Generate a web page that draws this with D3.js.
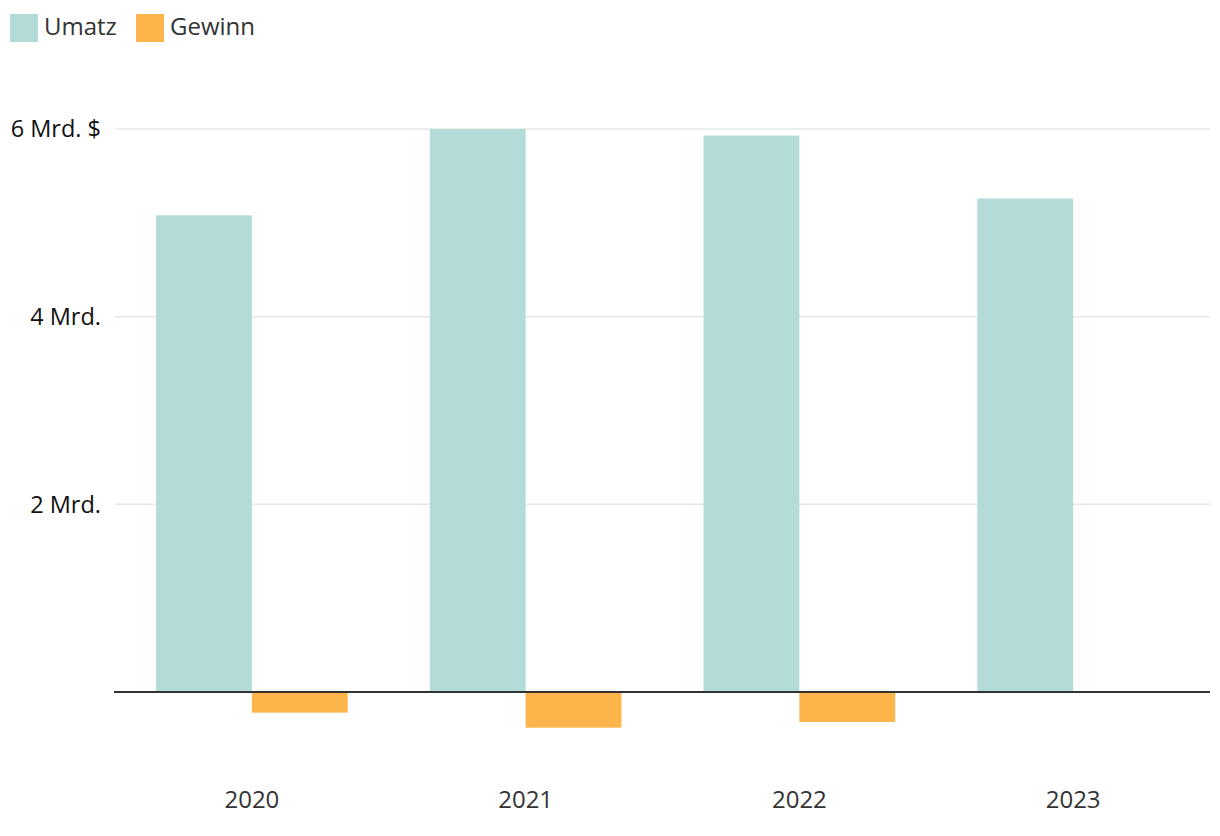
<!DOCTYPE html>
<html>
<head>
<meta charset="utf-8">
<script src="https://cdn.jsdelivr.net/npm/d3@7"></script>
<style>
  body { margin: 0; background: #fff; }
  svg { font-family: "Open Sans", sans-serif; }
</style>
</head>
<body>
<div id="chart"></div>
<script>
// Daten (Mrd. $)
var years = ["2020", "2021", "2022", "2023"];
var umsatz = [5.08, 6.0, 5.93, 5.26];
var gewinn = [-0.22, -0.38, -0.32, null];
var seriesNames = ["Umatz", "Gewinn"];
var seriesColors = ["#b3dcd8", "#fdb44b"];
var yTicks = [2, 4, 6];
var yTickLabels = ["2 Mrd.", "4 Mrd.", "6 Mrd. $"];

var width = 1220, height = 836;
var margin = {top: 129, right: 10, bottom: 144, left: 115};

var svg = d3.select("#chart").append("svg")
    .attr("width", width)
    .attr("height", height);

var x = d3.scaleBand()
    .domain(years)
    .range([margin.left, width - margin.right])
    .paddingInner(0.3)
    .paddingOuter(0.15);

var xSub = d3.scaleBand()
    .domain(seriesNames)
    .range([0, x.bandwidth()]);

var y = d3.scaleLinear()
    .domain([0, 6])
    .range([height - margin.bottom, margin.top]);

// gridlines
svg.append("g")
  .selectAll("line")
  .data(yTicks)
  .enter().append("line")
    .attr("x1", margin.left)
    .attr("x2", width - margin.right)
    .attr("y1", function(d) { return y(d); })
    .attr("y2", function(d) { return y(d); })
    .attr("stroke", "#e6e6e6")
    .attr("stroke-width", 1.5);

// y labels
svg.append("g")
  .selectAll("text")
  .data(yTicks)
  .enter().append("text")
    .attr("x", 101)
    .attr("y", function(d) { return y(d); })
    .attr("dy", "0.35em")
    .attr("text-anchor", "end")
    .attr("font-size", 23.5)
    .attr("fill", "#111")
    .text(function(d, i) { return yTickLabels[i]; });

// bars
var data = years.map(function(yr, i) { return {year: yr, values: [umsatz[i], gewinn[i]]}; });

var groups = svg.append("g")
  .selectAll("g")
  .data(data)
  .enter().append("g")
    .attr("transform", function(d) { return "translate(" + x(d.year) + ",0)"; });

groups.selectAll("rect")
    .data(function(d) {
      return d.values.map(function(v, j) { return {name: seriesNames[j], value: v, color: seriesColors[j]}; })
        .filter(function(e) { return e.value != null; });
    })
  .enter().append("rect")
    .attr("x", function(d) { return xSub(d.name); })
    .attr("width", xSub.bandwidth())
    .attr("y", function(d) { return y(Math.max(0, d.value)); })
    .attr("height", function(d) { return Math.abs(y(d.value) - y(0)); })
    .attr("fill", function(d) { return d.color; });

// zero line
svg.append("line")
    .attr("x1", margin.left - 1)
    .attr("x2", width - margin.right)
    .attr("y1", y(0))
    .attr("y2", y(0))
    .attr("stroke", "#333")
    .attr("stroke-width", 2);

// x labels
var xAxis = d3.axisBottom(x).tickSize(0).tickPadding(0);
var gx = svg.append("g")
    .attr("transform", "translate(0," + (y(0) + 108) + ")")
    .call(xAxis);
gx.select(".domain").remove();
gx.selectAll("text")
    .attr("font-family", "Open Sans, sans-serif")
    .attr("font-size", 24)
    .attr("fill", "#333")
    .attr("dy", "0.35em")
    .attr("y", 0);

// legend
var legend = svg.append("g");
var lx = [10, 136];
seriesNames.forEach(function(name, i) {
  legend.append("rect")
    .attr("x", lx[i]).attr("y", 14)
    .attr("width", 28).attr("height", 28)
    .attr("fill", seriesColors[i]);
  legend.append("text")
    .attr("x", lx[i] + 34).attr("y", 27)
    .attr("dy", "0.35em")
    .attr("font-size", 24)
    .attr("fill", "#333")
    .text(name);
});
</script>
</body>
</html>
